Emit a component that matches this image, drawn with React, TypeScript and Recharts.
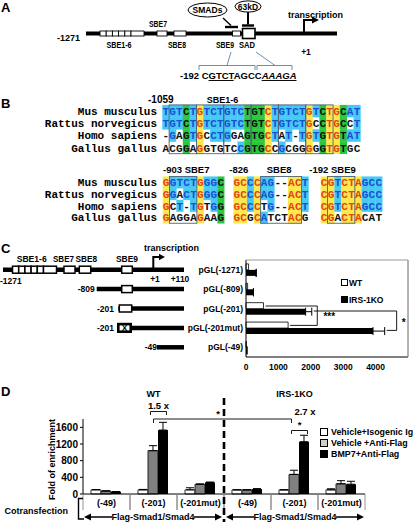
import React from "react";
import { BarChart, Bar, XAxis, YAxis, ErrorBar, Legend, ReferenceLine } from "recharts";

const FONT = "'Liberation Sans', Arial, sans-serif";
const MONO = "'Liberation Mono', 'Courier New', monospace";

// ---- panel B: alignments ----
const species = ["Mus musculus", "Rattus norvegicus", "Homo sapiens", "Gallus gallus"];
const sbe16Seq = [
  "TGTCTGTCTGTCTGTCTGTCTGTCTGCAT",
  "TGTCTGTCTGTCTGTCTGTCTGCCTGCCT",
  "-GAGTGCCTGGAGTGCTAT-TGTGTGTAT",
  "ACGGAGGTGTCCGTGCCGCGGGGGTGTGC",
];
const sbe7Seq = ["GGTCTGGGC", "GGACTGGGC", "GCT-TGTGG", "GAGGAGAAG"];
const sbe8Seq = ["GCCCAG--ACT", "GCCCAG--ACT", "GCCCTG--ACT", "GCGCATCTACG"];
const sbe9Seq = ["CGTCTAGCC", "CGTCTAGCC", "CGTCTAGCC", "CGACTACAT"];

// ---- panel C: promoter activity ----
const constructs = ["pGL(-1271)", "pGL(-809)", "pGL(-201)", "pGL(-201mut)", "pGL(-49)"];
const wtActivity = [80, 50, 540, 1300, 10];
const koActivity = [315, 230, 1840, 3920, 30];
const koErr = [0, 0, 190, 360, 0];
const activityTicks = [0, 1000, 2000, 3000, 4000];
const cSeries = ["WT", "IRS-1KO"];

// ---- panel D: ChIP ----
const chipGroups = ["(-49)", "(-201)", "(-201mut)", "(-49)", "(-201)", "(-201mut)"];
const isoIg = [100, 100, 100, 100, 100, 100];
const isoIgErr = [8, 10, 50, 0, 0, 25];
const antiFlag = [72, 1040, 232, 100, 470, 245];
const antiFlagErr = [5, 120, 10, 0, 100, 75];
const bmp7 = [55, 1535, 280, 120, 1255, 235];
const bmp7Err = [0, 185, 5, 8, 155, 70];
const enrichTicks = [0, 400, 800, 1200, 1600];
const dSeries = ["Vehicle+Isogenic Ig", "Vehicle +Anti-Flag", "BMP7+Anti-Flag"];

const activityData = constructs.map((name, i) => ({
  name,
  wt: wtActivity[i],
  ko: koActivity[i],
  koErr: [0, koErr[i]],
}));

const chipData = chipGroups.map((group, i) => ({
  group,
  iso: isoIg[i],
  isoErr: [0, isoIgErr[i]],
  anti: antiFlag[i],
  antiErr: [0, antiFlagErr[i]],
  bmp: bmp7[i],
  bmpErr: [0, bmp7Err[i]],
}));

// chart C geometry
const C_BOX = { left: 150, top: 250, w: 262, h: 130 };
const C_M = { top: 10, right: 4, bottom: 3, left: 0 };
const C_YW = 96;
const C_XH = 20;
const C_MAX = 5000;
const cL = C_BOX.left + C_M.left + C_YW;
const cR = C_BOX.left + C_BOX.w - C_M.right;
const cT = C_BOX.top + C_M.top;
const cB = C_BOX.top + C_BOX.h - C_M.bottom - C_XH;
const xC = (v: number) => cL + (v / C_MAX) * (cR - cL);
const bandC = (cB - cT) / constructs.length;
const rowC = (i: number) => cT + bandC * (i + 0.5);

// chart D geometry
const D_BOX = { left: 0, top: 390, w: 416, h: 134 };
const D_M = { top: 29, right: 51, bottom: 2, left: 43 };
const D_YW = 40;
const D_XH = 28;
const D_MAX = 1800;
const dL = D_BOX.left + D_M.left + D_YW;
const dR = D_BOX.left + D_BOX.w - D_M.right;
const dT = D_BOX.top + D_M.top;
const dB = D_BOX.top + D_BOX.h - D_M.bottom - D_XH;
const bandD = (dR - dL) / chipGroups.length;
const colD = (i: number) => dL + bandD * (i + 0.5);
const barD = (i: number, j: number) => colD(i) + (j - 1) * 10;

const CYAN = "#45c9f3";
const YEL = "#fde84a";
const GRN = "#2cc63e";
const BLUE = "#1a4fd6";
const RED = "#e2441a";

function Txt({ x, y, s = 9, a = "start", w, it, fill = "#000", children }: any) {
  return (
    <text
      x={x}
      y={y}
      fontSize={s}
      textAnchor={a}
      fontWeight="bold"
      fontFamily={FONT}
      fontStyle={it ? "italic" : undefined}
      textLength={w}
      lengthAdjust={w ? "spacingAndGlyphs" : undefined}
      fill={fill}
    >
      {children}
    </text>
  );
}

function cellStyle(rows: string[], c: number, r: number) {
  const ch = rows[r][c];
  if (!ch || ch === "-") return { bg: null, fg: "#111" };
  const counts: Record<string, number> = {};
  rows.forEach((row) => {
    const l = row[c];
    if (l && l !== "-") counts[l] = (counts[l] || 0) + 1;
  });
  const sorted = Object.values(counts).sort((a, b) => b - a);
  const top = sorted[0] || 0;
  const n = counts[ch] || 0;
  if (top === rows.length) return { bg: YEL, fg: RED };
  if (top >= 2 && sorted[1] === top && n === top) return { bg: GRN, fg: "#111" };
  if (top >= 2 && n === top) return { bg: CYAN, fg: BLUE };
  return { bg: null, fg: "#111" };
}

function AlignBlock({ rows, x0, y0, dy, cw, boxes }: any) {
  const bgs: any[] = [];
  const txt: any[] = [];
  rows.forEach((row: string, r: number) => {
    for (let c = 0; c < row.length; c++) {
      const st = cellStyle(rows, c, r);
      const cx = x0 + cw * c;
      const cy = y0 + dy * r;
      if (st.bg) bgs.push(<rect key={`b${r}-${c}`} x={cx} y={cy - dy / 2} width={cw + 0.3} height={dy + 0.3} fill={st.bg} />);
      txt.push(
        <text key={`t${r}-${c}`} x={cx + cw / 2} y={cy + 4} fontSize={11} fontWeight="bold" fontFamily={MONO} textAnchor="middle" fill={st.fg}>
          {row[c]}
        </text>
      );
    }
  });
  return (
    <g>
      {bgs}
      {txt}
      {boxes.map(([a, b]: number[], k: number) => (
        <rect key={k} x={x0 + cw * a} y={y0 - dy / 2} width={cw * (b - a + 1)} height={dy * rows.length} fill="none" stroke="#4d6378" strokeWidth={0.9} />
      ))}
    </g>
  );
}

function PanelA() {
  const y = 33.5;
  const box = (x: number, w: number, key: string) => (
    <rect key={key} x={x} y={31} width={w} height={5} fill="#fff" stroke="#000" strokeWidth={0.9} />
  );
  return (
    <g>
      <Txt x={1} y={12} s={13}>A</Txt>
      <line x1={86} x2={337} y1={y} y2={y} stroke="#000" strokeWidth={4} />
      {[0, 1, 2, 3, 4].map((k) => box(100 + k * 6.2, 6.2, `s${k}`))}
      {box(131, 13, "s5")}
      {box(157, 10, "s7")}
      {box(174, 12, "s8")}
      {box(232.5, 8, "s9")}
      <rect x={242.5} y={28.5} width={12.5} height={10} fill="#fff" stroke="#000" strokeWidth={1.6} />
      <Txt x={80} y={40.5} s={9} a="end">-1271</Txt>
      <Txt x={119} y={47.5} s={8.5} a="middle" w={25}>SBE1-6</Txt>
      <Txt x={158} y={27} s={8.5} a="middle" w={18}>SBE7</Txt>
      <Txt x={177} y={47.5} s={8.5} a="middle" w={18}>SBE8</Txt>
      <Txt x={225} y={47.5} s={8.5} a="middle" w={18}>SBE9</Txt>
      <Txt x={247} y={47.5} s={8.5} a="middle" w={16}>SAD</Txt>
      <Txt x={306} y={55} s={8.5} a="middle">+1</Txt>
      <Txt x={288} y={18} s={9}>transcription</Txt>
      <path d="M304,33 V20 H313" fill="none" stroke="#000" strokeWidth={2} />
      <polygon points="312,16.5 319,20 312,23.5" fill="#000" />
      <ellipse cx={207.5} cy={10} rx={19.5} ry={7} fill="#fff" stroke="#000" strokeWidth={1} />
      <Txt x={207.5} y={13.2} s={8.5} a="middle">SMADs</Txt>
      <ellipse cx={248} cy={6.5} rx={13} ry={5.6} fill="#fff" stroke="#000" strokeWidth={1} />
      <Txt x={248} y={9.6} s={8.5} a="middle">63kD</Txt>
      <line x1={223} y1={18} x2={231} y2={25.5} stroke="#000" strokeWidth={1.4} />
      <line x1={225} y1={27} x2={238} y2={27} stroke="#000" strokeWidth={2.4} />
      <line x1={248} y1={12} x2={248} y2={24.5} stroke="#000" strokeWidth={2} />
      <line x1={242} y1={25.5} x2={254} y2={25.5} stroke="#000" strokeWidth={2.4} />
      <g stroke="#5b80aa" strokeWidth={0.9} fill="none">
        <path d="M199,70 V65.5 H255 V70" />
        <line x1={227} y1={65.5} x2={231} y2={52} />
        <path d="M257,70 V65.5 H292 V70" />
        <line x1={275} y1={65.5} x2={256} y2={52} />
      </g>
      <text x={180} y={79} fontSize={9.5} fontWeight="bold" fontFamily={FONT}>
        -192 C<tspan textDecoration="underline">GTCT</tspan>AGCC
        <tspan fontStyle="italic" textDecoration="underline">AAAGA</tspan>
      </text>
    </g>
  );
}

function PanelB() {
  const cw = 6.83;
  const topY = 111;
  const topDy = 12.2;
  const botY = 182.3;
  const botDy = 11.7;
  return (
    <g>
      <Txt x={1} y={108} s={13}>B</Txt>
      <Txt x={148} y={103} s={10}>-1059</Txt>
      <Txt x={222.5} y={102.5} s={9} a="middle">SBE1-6</Txt>
      {species.map((s, i) => (
        <text key={`a${i}`} x={157} y={topY + topDy * i + 4} fontSize={11} fontWeight="bold" fontFamily={MONO} textAnchor="end">{s}</text>
      ))}
      <AlignBlock rows={sbe16Seq} x0={162.3} y0={topY} dy={topDy} cw={cw} boxes={[[1, 4], [5, 8], [9, 12], [13, 16], [17, 20], [21, 24]]} />
      <Txt x={163} y={173} s={9.5}>-903 SBE7</Txt>
      <Txt x={229.3} y={173} s={9.5}>-826</Txt>
      <Txt x={266.7} y={173} s={9.5}>SBE8</Txt>
      <Txt x={309.3} y={173} s={9.5}>-192 SBE9</Txt>
      {species.map((s, i) => (
        <text key={`b${i}`} x={157} y={botY + botDy * i + 4} fontSize={11} fontWeight="bold" fontFamily={MONO} textAnchor="end">{s}</text>
      ))}
      <AlignBlock rows={sbe7Seq} x0={162.7} y0={botY} dy={botDy} cw={cw} boxes={[[1, 4]]} />
      <AlignBlock rows={sbe8Seq} x0={233.3} y0={botY} dy={botDy} cw={cw} boxes={[[4, 9]]} />
      <AlignBlock rows={sbe9Seq} x0={320.7} y0={botY} dy={botDy} cw={cw} boxes={[[1, 4]]} />
    </g>
  );
}

function PanelCDiagram() {
  const box = (x: number, w: number, y: number, key: string) => (
    <rect key={key} x={x} y={y - 3.5} width={w} height={7} fill="#fff" stroke="#000" strokeWidth={1.5} />
  );
  const line = (x1: number, y: number) => <line x1={x1} x2={184} y1={y} y2={y} stroke="#000" strokeWidth={4.5} />;
  const r = constructs.map((_, i) => rowC(i));
  return (
    <g>
      <Txt x={1} y={253} s={13}>C</Txt>
      <Txt x={144} y={251} s={9}>transcription</Txt>
      <Txt x={16.7} y={262} s={8.5} w={30}>SBE1-6</Txt>
      <Txt x={53} y={262} s={8.5} w={21}>SBE7</Txt>
      <Txt x={75.5} y={262} s={8.5} w={21.5}>SBE8</Txt>
      <Txt x={116} y={262} s={8.5} w={22}>SBE9</Txt>
      {line(3, r[0])}
      {[0, 1, 2, 3, 4].map((k) => box(12.5 + k * 6.2, 6.2, r[0], `c${k}`))}
      {box(43.5, 13, r[0], "c5")}
      {box(64, 11, r[0], "c7")}
      {box(79.3, 11.4, r[0], "c8")}
      {box(121.7, 10.6, r[0], "c9")}
      <path d={`M153.3,${r[0]} V257 H160`} fill="none" stroke="#000" strokeWidth={2} />
      <polygon points="159,253.8 165,257 159,260.2" fill="#000" />
      <Txt x={0} y={284} s={8.5}>-1271</Txt>
      <Txt x={155} y={282} s={8.5} a="middle">+1</Txt>
      <Txt x={180} y={282} s={8.5} a="middle">+110</Txt>
      <Txt x={94.7} y={r[1] + 3} s={8.5} a="end">-809</Txt>
      {line(96.7, r[1])}
      {box(121.7, 10.6, r[1], "d9")}
      <Txt x={114} y={r[2] + 3} s={8.5} a="end">-201</Txt>
      {line(118.3, r[2])}
      {box(119.3, 12.4, r[2], "e9")}
      <Txt x={114} y={r[3] + 3} s={8.5} a="end">-201</Txt>
      {line(118.3, r[3])}
      <rect x={118.3} y={r[3] - 3.8} width={12.4} height={7.6} fill="#fff" stroke="#000" strokeWidth={2.6} />
      <Txt x={124.5} y={r[3] + 3.2} s={8.5} a="middle">X</Txt>
      <Txt x={157} y={r[4] + 3} s={8.5} a="end">-49</Txt>
      {line(157, r[4])}
    </g>
  );
}

function PanelCAnnot() {
  const wtY = (i: number) => rowC(i) - 2.5;
  const koY = (i: number) => rowC(i) + 2.5;
  const innerX = xC(2200);
  const outerX = xC(4650);
  return (
    <g>
      <path d={`M${cL},${cT} H${cR} V${cB}`} fill="none" stroke="#9a9a9a" strokeWidth={1} />
      <g fill="none" stroke="#000" strokeWidth={0.9}>
        <path d={`M${xC(wtActivity[2]) + 2},${wtY(2)} H${innerX} V${wtY(3)} H${xC(wtActivity[3]) + 2}`} />
        <path d={`M${xC(koActivity[2] + koErr[2]) + 2},${koY(2)} H${outerX} V${koY(3)} H${xC(koActivity[3] + koErr[3]) + 2}`} />
      </g>
      <Txt x={innerX + 12} y={320} s={10} a="middle">***</Txt>
      <Txt x={outerX + 7} y={326} s={10} a="middle">*</Txt>
    </g>
  );
}

function PanelDAnnot() {
  const divX = dL + bandD * 3;
  const arrow = (x1: number, x2: number, label: string, key: string) => {
    const y = 517;
    const mid = (x1 + x2) / 2;
    return (
      <g key={key}>
        <line x1={x1 + 5} x2={x2 - 5} y1={y} y2={y} stroke="#000" strokeWidth={1.6} />
        <polygon points={`${x1},${y} ${x1 + 7},${y - 3.5} ${x1 + 7},${y + 3.5}`} fill="#000" />
        <polygon points={`${x2},${y} ${x2 - 7},${y - 3.5} ${x2 - 7},${y + 3.5}`} fill="#000" />
        <rect x={mid - 41} y={y - 6} width={82} height={12} fill="#fff" />
        <Txt x={mid} y={y + 3.3} s={9} a="middle">{label}</Txt>
      </g>
    );
  };
  const wtG = barD(1, 1) - 3;
  const wtB = barD(1, 2) + 3;
  const koG = barD(4, 1) - 3;
  const koB = barD(4, 2) + 3;
  return (
    <g>
      <Txt x={1} y={396} s={13}>D</Txt>
      <Txt x={colD(1)} y={397} s={9} a="middle">WT</Txt>
      <Txt x={colD(4)} y={397} s={9} a="middle">IRS-1KO</Txt>
      <line x1={divX} x2={divX} y1={398} y2={522} stroke="#000" strokeWidth={2.6} strokeDasharray="7 4" />
      <g fill="none" stroke="#000" strokeWidth={0.9}>
        <path d={`M${wtG},415 V411.5 H${wtB} V415`} />
        <path d={`M${barD(1, 1)},${dT + 4} V${dT} H${barD(4, 1) - 3} V${dT + 4}`} />
        <path d={`M${koG},434 V430.5 H${koB} V434`} />
      </g>
      <Txt x={(wtG + wtB) / 2} y={409} s={9.5} a="middle">1.5 x</Txt>
      <Txt x={divX - 6} y={417} s={9.5} a="middle">*</Txt>
      <Txt x={305} y={414.5} s={9.5} a="middle">2.7 x</Txt>
      <Txt x={(koG + koB) / 2} y={428} s={9.5} a="middle">*</Txt>
      <text transform={`translate(55,${(dT + dB) / 2 + 3}) rotate(-90)`} fontSize={9} fontWeight="bold" fontFamily={FONT} textAnchor="middle">
        Fold of enrichment
      </text>
      <Txt x={68} y={514} s={9} a="end">Cotransfection</Txt>
      <path d="M83,498.5 H78.5 V519 H84" fill="none" stroke="#000" strokeWidth={1.4} />
      {arrow(dL + 1, divX - 2, "Flag-Smad1/Smad4", "l")}
      {arrow(divX + 2, dR - 1, "Flag-Smad1/Smad4", "r")}
    </g>
  );
}

function TableTick(props: any) {
  const { x, y, payload } = props;
  const h = bandD / 2;
  return (
    <g>
      <line x1={x - h} x2={x - h} y1={y} y2={y + 16} stroke="#888" strokeWidth={0.9} />
      <line x1={x + h} x2={x + h} y1={y} y2={y + 16} stroke="#888" strokeWidth={0.9} />
      <text x={x} y={y + 12} textAnchor="middle" fontSize={9} fontWeight="bold" fontFamily={FONT} fill="#000">
        {payload.value}
      </text>
    </g>
  );
}

const cSwatch: Record<string, string> = { WT: "#fff", "IRS-1KO": "#000" };
const dSwatch: Record<string, string> = {
  "Vehicle+Isogenic Ig": "#fff",
  "Vehicle +Anti-Flag": "#d3cebf",
  "BMP7+Anti-Flag": "#000",
};

function makeLegend(order: string[], sw: Record<string, string>, fontSize: number, rowH: number, size: number, gap: number) {
  return (p: any) => {
    const items = [...(p.payload || [])].sort((a: any, b: any) => order.indexOf(a.value) - order.indexOf(b.value));
    return (
      <div style={{ fontFamily: FONT, fontWeight: "bold", fontSize, whiteSpace: "nowrap", color: "#000" }}>
        {items.map((e: any, i: number) => (
          <div key={i} style={{ display: "flex", alignItems: "center", height: rowH }}>
            <span style={{ display: "inline-block", width: size, height: size, border: "1px solid #000", background: sw[e.value], marginRight: gap }} />
            <span>{e.value}</span>
          </div>
        ))}
      </div>
    );
  };
}

const tickFont = { fontFamily: FONT, fontWeight: "bold", fill: "#000" };

export default function App() {
  return (
    <div style={{ position: "absolute", left: 0, top: 0, width: 416, height: 524, background: "#fff", overflow: "hidden", fontFamily: FONT }}>
      <div style={{ position: "absolute", left: C_BOX.left, top: C_BOX.top }}>
        <BarChart width={C_BOX.w} height={C_BOX.h} data={activityData} layout="vertical" margin={C_M} barCategoryGap="20%" barGap={0}>
          <XAxis type="number" domain={[0, C_MAX]} ticks={activityTicks} height={C_XH} tickSize={0} tickMargin={7} axisLine={{ stroke: "#000" }} tick={{ ...tickFont, fontSize: 8.5 }} />
          <YAxis type="category" dataKey="name" width={C_YW} tickSize={0} tickMargin={3} axisLine={{ stroke: "#000" }} tick={{ ...tickFont, fontSize: 8.5 }} interval={0} />
          <ReferenceLine x={C_MAX} stroke="#9a9a9a" />
          <Bar dataKey="wt" name={cSeries[0]} fill="#fff" stroke="#000" strokeWidth={0.8} isAnimationActive={false} />
          <Bar dataKey="ko" name={cSeries[1]} fill="#000" isAnimationActive={false}>
            <ErrorBar dataKey="koErr" direction="x" width={4} stroke="#000" strokeWidth={1} />
          </Bar>
          <Legend layout="vertical" align="center" verticalAlign="middle" wrapperStyle={{ left: 191, top: 24, width: "auto" }} content={makeLegend(cSeries, cSwatch, 8.5, 17, 5, 1)} />
        </BarChart>
      </div>
      <div style={{ position: "absolute", left: D_BOX.left, top: D_BOX.top }}>
        <BarChart width={D_BOX.w} height={D_BOX.h} data={chipData} margin={D_M} barCategoryGap="17%" barGap={0}>
          <XAxis dataKey="group" height={D_XH} tickSize={0} tickMargin={0} tickLine={false} interval={0} axisLine={{ stroke: "#000" }} tick={<TableTick />} />
          <YAxis domain={[0, D_MAX]} ticks={enrichTicks} width={D_YW} tickSize={3} tickMargin={2} axisLine={{ stroke: "#000" }} tickLine={{ stroke: "#000" }} tick={{ ...tickFont, fontSize: 10 }} />
          <Bar dataKey="iso" name={dSeries[0]} fill="#fff" stroke="#000" strokeWidth={0.8} isAnimationActive={false}>
            <ErrorBar dataKey="isoErr" direction="y" width={4} stroke="#000" strokeWidth={1} />
          </Bar>
          <Bar dataKey="anti" name={dSeries[1]} fill="#808080" stroke="#000" strokeWidth={0.8} isAnimationActive={false}>
            <ErrorBar dataKey="antiErr" direction="y" width={4} stroke="#000" strokeWidth={1} />
          </Bar>
          <Bar dataKey="bmp" name={dSeries[2]} fill="#000" isAnimationActive={false}>
            <ErrorBar dataKey="bmpErr" direction="y" width={4} stroke="#000" strokeWidth={1} />
          </Bar>
          <Legend layout="vertical" align="center" verticalAlign="middle" wrapperStyle={{ left: 320, top: 36, width: "auto" }} content={makeLegend(dSeries, dSwatch, 8.9, 11, 6, 3)} />
        </BarChart>
      </div>
      <svg width={416} height={524} style={{ position: "absolute", left: 0, top: 0, pointerEvents: "none" }}>
        <PanelA />
        <PanelB />
        <PanelCDiagram />
        <PanelCAnnot />
        <PanelDAnnot />
      </svg>
    </div>
  );
}
